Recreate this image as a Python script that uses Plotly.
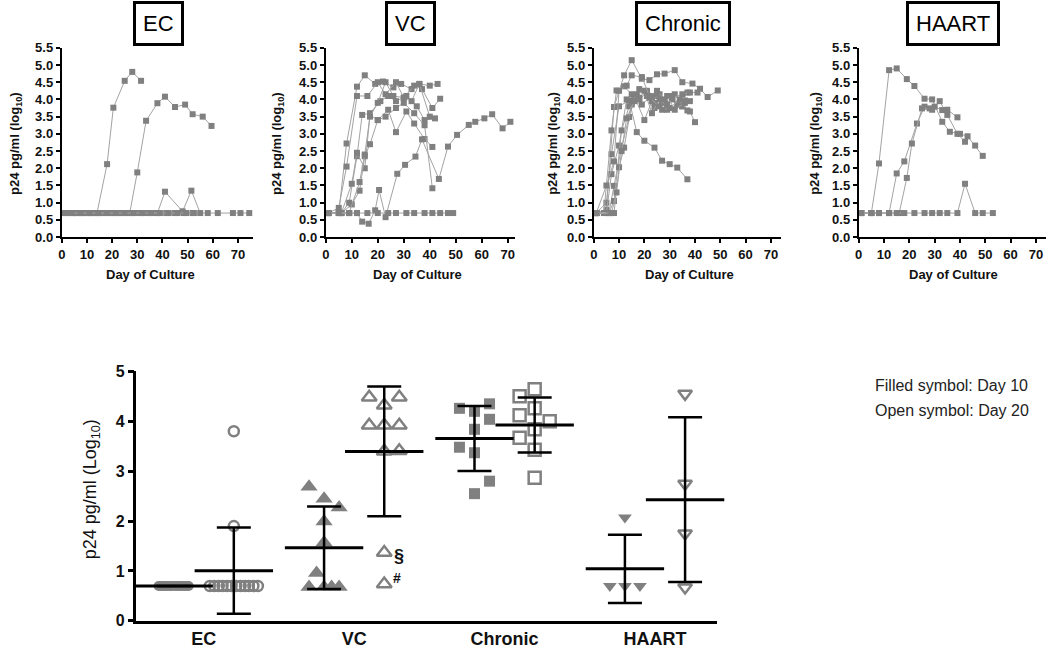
import numpy as np
import plotly.graph_objects as go

# ---------------- DATA: top panels (day of culture, p24 log10) ----------------
ec_days = [
    [1, 5, 8, 11, 14, 18, 20.5, 25, 28, 31.5],
    [2, 5.5, 9, 12.5, 16, 19.5, 23, 27, 30, 33.5, 38, 41, 45, 49, 52, 56, 59.5],
    [1, 4.5, 8, 11.5, 15, 18.5, 22, 25.5, 29, 32.5, 36, 38, 41, 48, 51.5, 55, 58, 62, 68, 71, 74.5],
    [3, 6.5, 10, 13.5, 17, 20.5, 24, 27.5, 31, 34.5, 38, 41.5, 45, 48.5, 52],
    [4, 7.5, 11, 14.5, 18, 21.5, 25, 28.5, 32, 35.5, 39, 42.5, 46, 49.5, 52.5],
]
ec_p24 = [
    [0.7, 0.7, 0.7, 0.7, 0.7, 2.12, 3.76, 4.54, 4.80, 4.54],
    [0.7, 0.7, 0.7, 0.7, 0.7, 0.7, 0.7, 0.7, 1.88, 3.38, 3.89, 4.08, 3.78, 3.85, 3.57, 3.50, 3.23],
    [0.7, 0.7, 0.7, 0.7, 0.7, 0.7, 0.7, 0.7, 0.7, 0.7, 0.7, 0.7, 1.32, 0.75, 1.35, 0.7, 0.7, 0.7, 0.7, 0.7, 0.7],
    [0.7, 0.7, 0.7, 0.7, 0.7, 0.7, 0.7, 0.7, 0.7, 0.7, 0.7, 0.7, 0.7, 0.7, 0.7],
    [0.7, 0.7, 0.7, 0.7, 0.7, 0.7, 0.7, 0.7, 0.7, 0.7, 0.7, 0.7, 0.7, 0.7, 0.7],
]

vc_days = [
    [1, 5, 8, 12, 15, 19, 22, 26, 29, 33, 36, 40, 43],
    [1, 5, 8, 12, 16, 20, 23, 27, 30, 34, 37, 41, 44],
    [1, 6, 9, 12, 14, 17, 21, 24, 27, 31, 35, 38, 42],
    [1, 6, 10, 12, 15, 17, 20, 24, 27, 31, 34, 38, 41],
    [1, 6, 10, 13, 15, 17, 20, 23, 27, 30, 34, 38, 41],
    [1, 6, 9, 13, 15, 17, 20, 23, 26, 30, 33, 36, 40],
    [1, 5, 9, 12, 14, 16.5, 19, 20.5, 23, 27.5, 30.5, 34.5, 37, 43.5, 47, 50.5, 55, 57.5, 61, 64, 68, 71],
    [1, 5, 9, 12, 16, 20, 24, 27, 31, 34, 38, 41, 44, 47, 49],
]
vc_p24 = [
    [0.7, 0.7, 2.72, 4.37, 4.70, 4.45, 4.52, 4.35, 4.45, 4.30, 4.45, 4.40, 4.45],
    [0.7, 0.85, 2.05, 4.10, 4.10, 4.50, 4.15, 4.50, 4.05, 4.40, 4.30, 3.75, 4.02],
    [0.7, 0.7, 1.0, 2.35, 3.55, 3.60, 3.95, 4.10, 3.95, 4.10, 3.80, 3.40, 3.45],
    [0.7, 0.7, 1.55, 2.45, 2.0, 3.55, 3.40, 3.70, 3.05, 3.65, 3.30, 2.85, 2.62],
    [0.7, 0.7, 0.95, 1.35, 2.35, 2.70, 3.40, 3.50, 3.75, 3.90, 3.60, 3.25, 1.42],
    [0.7, 0.7, 0.7, 1.60, 2.40, 3.50, 3.90, 4.50, 4.10, 4.05, 3.95, 4.45, 3.50],
    [0.7, 0.7, 0.7, 0.7, 0.45, 0.39, 0.78, 1.37, 0.58, 1.84, 2.10, 2.34, 2.84, 1.69, 2.63, 2.97, 3.26, 3.35, 3.45, 3.57, 3.16, 3.35],
    [0.7, 0.7, 0.7, 0.7, 0.7, 0.7, 0.7, 0.7, 0.7, 0.7, 0.7, 0.7, 0.7, 0.7, 0.7],
]

chronic_days = [
    [1, 5, 8, 12, 15, 19, 22, 25, 28, 32, 35, 39, 42, 45, 49],
    [1, 5, 7, 10, 14, 17, 20, 24, 27, 30, 33, 37],
    [1, 4, 7, 9, 12, 15, 18, 21, 24, 28, 31, 35, 38, 40],
    [1, 5, 7, 10, 13, 15, 18, 21, 24, 27, 31, 34, 37],
    [1, 6, 8, 11, 14, 16, 20, 23, 26, 29, 33, 36],
    [1, 6, 8, 11, 14, 17, 20, 23, 26, 29, 32, 35, 38],
    [1, 6, 8, 10, 12, 15, 18, 21, 24, 27, 30, 34, 37],
    [1, 7, 9, 11, 13, 16, 19, 22, 26, 29, 32, 36],
    [1, 5, 8, 10, 13, 15, 19, 22, 25, 28, 31, 35, 38, 41],
]
chronic_p24 = [
    [0.7, 0.8, 3.78, 4.70, 5.14, 4.60, 4.56, 4.73, 4.75, 4.85, 4.50, 4.46, 4.31, 4.07, 4.26],
    [0.7, 1.0, 2.41, 3.80, 3.97, 3.05, 2.80, 2.60, 2.22, 2.12, 2.02, 1.68],
    [0.7, 0.7, 3.10, 4.26, 4.38, 4.15, 4.05, 4.25, 4.10, 3.90, 4.00, 3.80, 3.65, 3.34],
    [0.7, 0.7, 1.83, 2.66, 4.00, 3.85, 4.30, 4.10, 3.75, 3.95, 4.10, 3.85, 4.20],
    [0.7, 0.7, 1.49, 2.60, 3.49, 4.10, 3.40, 3.95, 4.15, 3.70, 3.85, 3.97],
    [0.7, 0.7, 1.05, 3.10, 3.80, 4.15, 4.25, 3.60, 4.00, 3.85, 4.15, 3.80, 3.95],
    [0.7, 0.7, 0.7, 2.03, 2.60, 3.90, 4.00, 4.20, 3.90, 3.70, 3.75, 4.00, 3.68],
    [0.7, 0.7, 1.30, 2.50, 3.45, 3.95, 3.85, 4.05, 3.80, 4.10, 3.70, 3.90],
    [0.7, 1.50, 2.20, 4.25, 4.40, 4.70, 4.65, 4.10, 4.25, 4.00, 4.05, 4.15, 4.20, 4.20],
]

haart_days = [
    [1, 5, 8, 12, 15, 19, 22, 26, 29, 33, 36, 40, 43, 46, 49],
    [1, 5, 8, 12, 15, 18, 23, 26, 29, 32, 35, 39, 42],
    [1, 5, 8, 12, 16, 19, 21, 25, 28, 30, 33, 35, 39],
    [1, 5, 8, 12, 15, 18, 22, 26, 29, 32, 35, 39, 42, 46, 49, 53],
]
haart_p24 = [
    [0.7, 0.7, 2.14, 4.85, 4.90, 4.59, 4.39, 4.02, 4.00, 3.35, 3.06, 3.00, 2.93, 2.66, 2.36],
    [0.7, 0.7, 0.7, 0.7, 1.85, 2.20, 3.30, 3.79, 3.70, 3.95, 3.55, 3.00, 2.77],
    [0.7, 0.7, 0.7, 0.7, 0.7, 1.72, 2.72, 3.74, 3.74, 3.79, 3.69, 3.70, 3.48],
    [0.7, 0.7, 0.7, 0.7, 0.7, 0.7, 0.7, 0.7, 0.7, 0.7, 0.7, 0.7, 1.55, 0.7, 0.7, 0.7],
]

panel_titles = ["EC", "VC", "Chronic", "HAART"]

# ---------------- DATA: bottom panel (p24 log10 at day 10 / day 20) ----------------
categories = ["EC", "VC", "Chronic", "HAART"]
ec_d10 = [0.7, 0.7, 0.7, 0.7, 0.7, 0.7, 0.7, 0.7, 0.7, 0.7, 0.7, 0.7, 0.7, 0.7]
ec_d20 = [0.7, 0.7, 0.7, 0.7, 0.7, 0.7, 0.7, 0.7, 0.7, 0.7, 0.7, 0.7, 1.9, 3.8]
vc_d10 = [2.69, 2.45, 2.27, 1.99, 1.57, 0.96, 0.68, 0.68, 0.68, 0.68]
vc_d20 = [4.48, 4.48, 4.32, 3.92, 3.92, 3.92, 3.40, 3.41, 1.37, 0.74]
chronic_d10 = [4.26, 4.35, 4.20, 4.04, 3.84, 3.48, 3.37, 2.80, 2.55]
chronic_d20 = [4.64, 4.50, 4.26, 4.12, 4.00, 3.84, 3.67, 3.43, 2.87]
haart_d10 = [2.07, 0.7, 0.7, 0.7]
haart_d20 = [4.55, 2.75, 1.75, 0.67]

# column-scatter slot of each point (as seen in the picture)
ec_d10_slot = [-1.0, -0.85, -0.7, -0.55, -0.4, -0.25, -0.1, 0.1, 0.25, 0.4, 0.55, 0.7, 0.85, 1.0]
ec_d20_slot = [-1.6, -1.3, -1.0, -0.75, -0.45, -0.15, 0.15, 0.45, 0.75, 1.0, 1.3, 1.6, 0, 0]
vc_d10_slot = [-1, 0, 1, 0, 0, -0.5, -1, 0, 0.5, 1]
vc_d20_slot = [-1, 1, 0, -1, 0, 1, 0, 1, 0, 0]
chronic_d10_slot = [-1, 1, 0, 1, 0, -1, 0, 1, 0]
chronic_d20_slot = [0, -1, 0, -1, 1, 0, -1, 0, 0]
haart_d10_slot = [0, -1, 0, 1]
haart_d20_slot = [0, 0, 0, 0]

legend_lines = ["Filled symbol: Day 10", "Open symbol: Day 20"]

# ---------------- LAYOUT helpers ----------------
W, H = 1050, 651
FONT = "Liberation Sans, Arial, sans-serif"
GREY = "#808080"
LGREY = "#a3a3a3"


def fx(p):
    return p / W


def fy(p):
    # vertical pixel position (from top) -> paper fraction, with a small
    # correction for the vertical offset/scale observed in the rendered page
    q = (p - 8.3) / 0.972
    return 1 - q / H


fig = go.Figure()

# top panels: (days, values, x-domain px, x range)
top = [
    (ec_days, ec_p24, (58, 250), 76),
    (vc_days, vc_p24, (323, 513), 72.8),
    (chronic_days, chronic_p24, (592, 780), 74),
    (haart_days, haart_p24, (858, 1046), 74.0),
]
ytitle_x = [12, 275, 552, 815]
box_cx = [155, 408, 682, 953]
xtitle_cx = [147, 415, 688, 953]
top_y_dom = [fy(237), fy(48)]

layout = dict(
    width=W, height=H, margin=dict(l=0, r=0, t=0, b=0), autosize=False,
    paper_bgcolor="white", plot_bgcolor="white", showlegend=False,
    font=dict(family=FONT, color="black"),
)
annotations = []

for i, (days, vals, dom, xmax) in enumerate(top):
    k = i + 1
    xa = "x" if k == 1 else f"x{k}"
    ya = "y" if k == 1 else f"y{k}"
    for d, v in zip(days, vals):
        fig.add_trace(go.Scatter(
            x=d, y=v, mode="lines+markers", xaxis=xa, yaxis=ya, cliponaxis=False,
            line=dict(color=LGREY, width=1),
            marker=dict(symbol="square", size=6, color=GREY, line=dict(width=0)),
            hoverinfo="skip"))
    layout["xaxis" if k == 1 else f"xaxis{k}"] = dict(
        domain=[fx(dom[0]), fx(dom[1])], range=[0, xmax], anchor=ya,
        showline=True, linewidth=2, linecolor="black", showgrid=False, zeroline=False,
        ticks="outside", ticklen=4, tickwidth=2, tickcolor="black",
        tickvals=[0, 10, 20, 30, 40, 50, 60, 70],
        tickfont=dict(family=FONT, size=13, weight="bold", color="#111"))
    layout["yaxis" if k == 1 else f"yaxis{k}"] = dict(
        domain=top_y_dom, range=[0, 5.5], anchor=xa,
        showline=True, linewidth=2, linecolor="black", showgrid=False, zeroline=False,
        ticks="outside", ticklen=4, tickwidth=2, tickcolor="black",
        tickvals=[0, 0.5, 1, 1.5, 2, 2.5, 3, 3.5, 4, 4.5, 5, 5.5], tickformat=".1f",
        tickfont=dict(family=FONT, size=13, weight="bold", color="#111"))
    annotations.append(dict(
        x=fx(box_cx[i]), y=fy(24), xref="paper", yref="paper", text=panel_titles[i],
        xanchor="center", yanchor="middle",
        showarrow=False, font=dict(family=FONT, size=22, color="black"),
        bordercolor="black", borderwidth=3, borderpad=7, bgcolor="white"))
    annotations.append(dict(
        x=fx(xtitle_cx[i]), y=fy(274), xref="paper", yref="paper", text="Day of Culture",
        xanchor="center", yanchor="middle",
        showarrow=False, font=dict(family=FONT, size=13, weight="bold", color="#111")))
    annotations.append(dict(
        x=fx(ytitle_x[i]), y=fy(143), xref="paper", yref="paper",
        text="p24 pg/ml (log<sub>10</sub>)", textangle=-90,
        xanchor="center", yanchor="middle",
        showarrow=False, font=dict(family=FONT, size=13, weight="bold", color="#111")))

# bottom panel
centers = [1, 2, 3, 4]
off = 0.2
slot_w = 0.1
bottom_groups = [
    (ec_d10, ec_d10_slot, centers[0] - off, "circle", 10),
    (ec_d20, ec_d20_slot, centers[0] + off, "circle-open", 10),
    (vc_d10, vc_d10_slot, centers[1] - off, "triangle-up", 15),
    (vc_d20, vc_d20_slot, centers[1] + off, "triangle-up-open", 13),
    (chronic_d10, chronic_d10_slot, centers[2] - off, "square", 11),
    (chronic_d20, chronic_d20_slot, centers[2] + off, "square-open", 12),
    (haart_d10, haart_d10_slot, centers[3] - off, "triangle-down", 12),
    (haart_d20, haart_d20_slot, centers[3] + off, "triangle-down-open", 12),
]
for vals, slots, pos, sym, sz in bottom_groups:
    xs = [pos + s * slot_w for s in slots]
    fig.add_trace(go.Scatter(
        x=xs, y=vals, mode="markers", xaxis="x5", yaxis="y5", cliponaxis=False,
        marker=dict(symbol=sym, size=sz, color=GREY,
                    line=dict(color=GREY, width=2.5 if "open" in sym else 0)),
        hoverinfo="skip"))
for vals, slots, pos, sym, sz in bottom_groups:
    m = float(np.mean(vals))
    sd = float(np.std(vals, ddof=1))
    fig.add_trace(go.Scatter(
        x=[pos], y=[m], mode="markers", xaxis="x5", yaxis="y5", cliponaxis=False,
        marker=dict(symbol="line-ew", size=56, color="black",
                    line=dict(color="black", width=3)),
        error_y=dict(type="data", array=[sd], visible=True, color="black",
                     thickness=2.5, width=17),
        hoverinfo="skip"))

layout["xaxis5"] = dict(
    domain=[fx(133), fx(716)], range=[0.553, 4.414], anchor="y5",
    showline=True, linewidth=2.5, linecolor="black", showgrid=False, zeroline=False,
    ticks="", tickvals=centers, ticktext=categories,
    tickfont=dict(family=FONT, size=18, weight="bold", color="#111"))
layout["yaxis5"] = dict(
    domain=[fy(620), fy(371)], range=[0, 5], anchor="x5",
    showline=True, linewidth=2.5, linecolor="black", showgrid=False, zeroline=False,
    ticks="outside", ticklen=6, tickwidth=2.5, tickcolor="black",
    tickvals=[0, 1, 2, 3, 4, 5],
    tickfont=dict(family=FONT, size=16, weight="bold", color="#111"))

annotations.append(dict(
    x=fx(88), y=fy(489), xref="paper", yref="paper",
    text="p24 pg/ml (Log<sub>10</sub>)", textangle=-90, showarrow=False,
    xanchor="center", yanchor="middle",
    font=dict(family=FONT, size=18, color="#111")))

# markers for the two VC day-20 outliers
vc20_pos = centers[1] + off
annotations.append(dict(x=vc20_pos, y=vc_d20[8], xref="x5", yref="y5", text="§",
                        showarrow=False, xshift=15, yshift=-3,
                        font=dict(family=FONT, size=18, weight="bold", color="#111")))
annotations.append(dict(x=vc20_pos, y=vc_d20[9], xref="x5", yref="y5", text="#",
                        showarrow=False, xshift=13, yshift=6,
                        font=dict(family=FONT, size=14, weight="bold", color="#111")))

for j, t in enumerate(legend_lines):
    annotations.append(dict(x=fx(872), y=fy(385 + 25 * j), xref="paper", yref="paper",
                            text=t, showarrow=False, xanchor="left", yanchor="middle",
                            font=dict(family=FONT, size=16, color="#222")))

layout["annotations"] = annotations
fig.update_layout(**layout)
fig.write_html("out.html", config={"displayModeBar": False},
               post_script="document.body.style.margin='0px';document.body.style.overflow='hidden';")
